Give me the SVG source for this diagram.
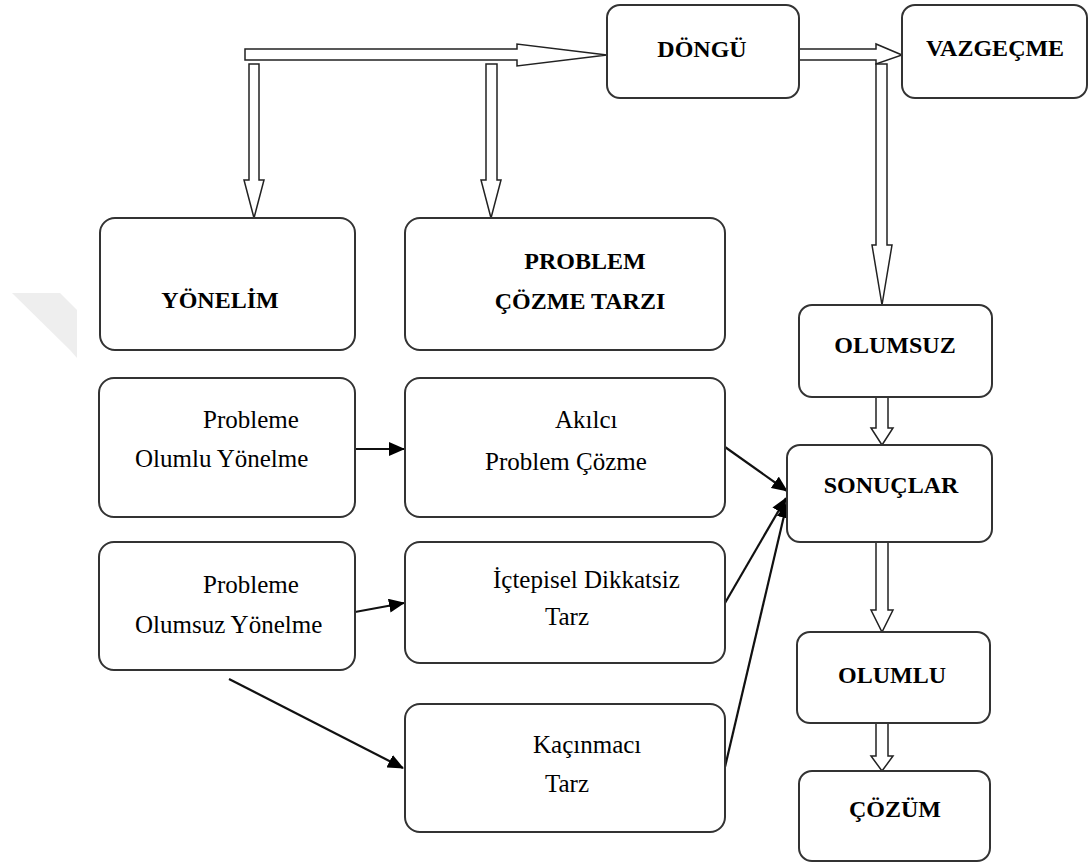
<svg xmlns="http://www.w3.org/2000/svg" width="1089" height="863" viewBox="0 0 1089 863">
<style>
.box{fill:#fff;stroke:#333;stroke-width:2}
.b{font-family:"Liberation Serif",serif;font-weight:bold;font-size:24px;fill:#000;text-anchor:middle}
.r{font-family:"Liberation Serif",serif;font-size:25px;fill:#000}
.ho{fill:#fff;stroke:#222;stroke-width:1.5;stroke-linejoin:miter}
.ln{fill:none;stroke:#111;stroke-width:2.2}
.wm{fill:#eeeeee;stroke:none}
</style>
<defs>
<marker id="ah2" markerWidth="16" markerHeight="14" refX="15" refY="7" orient="auto" markerUnits="userSpaceOnUse" viewBox="0 0 16 14">
<path d="M0,0 L16,7 L0,14 z" fill="#000"/>
</marker>
</defs>
<rect width="1089" height="863" fill="#fff"/>
<g id="watermark">
<polygon class="wm" points="12,293 60,293 77,310 77,358 70,350"/>
<polygon class="wm" points="153,398 178,398 193,413 193,442 168,442 153,427"/>
<polygon class="wm" points="197,562 197,607 155,607"/>
<polygon class="wm" points="505,400 543,400 505,435"/>
<polygon class="wm" points="467,553 495,553 495,578 462,617 447,617 447,575"/>
</g>
<g id="connectors">
<polygon class="ho" points="245,49 517,49 517,44 607,55 517,66 517,60 245,60"/>
<polygon class="ho" points="249,64 259,64 259,180 264,180 254,218 244,180 249,180"/>
<polygon class="ho" points="486,64 497,64 497,180 501,180 491,218 481,180 486,180"/>
<polygon class="ho" points="799,49 876,49 876,44 902,55 876,64 876,60 799,60"/>
<polygon class="ho" points="876,64 887,64 887,245 892,245 882,305 872,245 876,245"/>
<polygon class="ho" points="876,397 888,397 888,428 893,428 882,445 871,428 876,428"/>
<polygon class="ho" points="876,542 888,542 888,610 893,610 882,632 871,610 876,610"/>
<polygon class="ho" points="876,723 888,723 888,756 893,756 882,771 871,756 876,756"/>
<line class="ln" x1="355" y1="449" x2="404" y2="449" marker-end="url(#ah2)"/>
<line class="ln" x1="355" y1="612" x2="404" y2="603" marker-end="url(#ah2)"/>
<line class="ln" x1="229" y1="679" x2="403" y2="768" marker-end="url(#ah2)"/>
<line class="ln" x1="725" y1="447" x2="787" y2="491" marker-end="url(#ah2)"/>
<line class="ln" x1="725" y1="603" x2="786" y2="498" marker-end="url(#ah2)"/>
<line class="ln" x1="725" y1="767" x2="787" y2="503" marker-end="url(#ah2)"/>
</g>
<g id="dongu"><rect class="box" x="607" y="5" width="192" height="93" rx="13"/><text class="b" x="702" y="57">DÖNGÜ</text></g>
<g id="vazgecme"><rect class="box" x="902" y="5" width="185" height="93" rx="13"/><text class="b" x="995" y="56">VAZGEÇME</text></g>
<g id="yonelim"><rect class="box" x="100" y="218" width="255" height="132" rx="15"/><text class="b" x="220" y="308">YÖNELİM</text></g>
<g id="problem-cozme-tarzi"><rect class="box" x="405" y="218" width="320" height="132" rx="15"/><text class="b" x="585" y="269">PROBLEM</text><text class="b" x="580" y="309">ÇÖZME TARZI</text></g>
<g id="olumlu-yonelme"><rect class="box" x="99" y="378" width="256" height="139" rx="15"/><text class="r" x="203" y="428">Probleme</text><text class="r" x="135" y="467">Olumlu Yönelme</text></g>
<g id="olumsuz-yonelme"><rect class="box" x="99" y="542" width="256" height="128" rx="15"/><text class="r" x="203" y="593">Probleme</text><text class="r" x="135" y="633">Olumsuz Yönelme</text></g>
<g id="akilci"><rect class="box" x="405" y="378" width="320" height="139" rx="15"/><text class="r" x="555" y="428">Akılcı</text><text class="r" x="485" y="470">Problem Çözme</text></g>
<g id="ictepisel"><rect class="box" x="405" y="542" width="320" height="121" rx="15"/><text class="r" x="493" y="588">İçtepisel Dikkatsiz</text><text class="r" x="545" y="625">Tarz</text></g>
<g id="kacinmaci"><rect class="box" x="405" y="704" width="320" height="128" rx="15"/><text class="r" x="533" y="753">Kaçınmacı</text><text class="r" x="545" y="792">Tarz</text></g>
<g id="olumsuz"><rect class="box" x="799" y="305" width="193" height="92" rx="13"/><text class="b" x="895" y="353">OLUMSUZ</text></g>
<g id="sonuclar"><rect class="box" x="787" y="445" width="205" height="97" rx="13"/><text class="b" x="891" y="493">SONUÇLAR</text></g>
<g id="olumlu"><rect class="box" x="797" y="632" width="193" height="91" rx="13"/><text class="b" x="892" y="683">OLUMLU</text></g>
<g id="cozum"><rect class="box" x="799" y="771" width="191" height="90" rx="13"/><text class="b" x="895" y="817">ÇÖZÜM</text></g>
</svg>
